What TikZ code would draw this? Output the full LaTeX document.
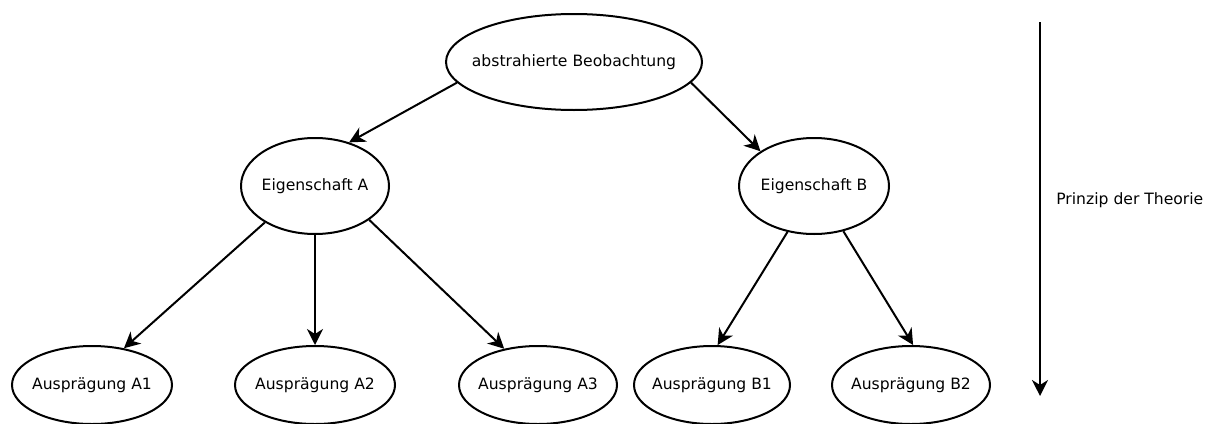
\documentclass[tikz,border=0pt]{standalone}
\usepackage{fontspec}
\setmainfont{DejaVu Sans}
\usetikzlibrary{shapes.geometric, arrows.meta}

\begin{document}
\begin{tikzpicture}[x=1pt, y=-1pt, line width=2pt,
    knoten/.style={draw, ellipse, inner xsep=-30pt, inner ysep=0pt, font=\fontsize{15.6}{18}\selectfont},
    pfeil/.style={-{Stealth[length=16pt, width=16pt, inset=5pt]}}]
    \useasboundingbox (0,0) rectangle (1206,423);

    \node[knoten, minimum width=256pt, minimum height=96pt] (obs) at (574,62) {abstrahierte Beobachtung};
    \node[knoten, minimum width=148pt, minimum height=96pt] (eigA) at (315,186) {Eigenschaft A};
    \node[knoten, minimum width=150pt, minimum height=96pt] (eigB) at (814,186) {Eigenschaft B};

    \node[knoten, minimum width=160pt, minimum height=78pt] (ausA1) at (92,385) {Ausprägung A1};
    \node[knoten, minimum width=160pt, minimum height=78pt] (ausA2) at (315,385) {Ausprägung A2};
    \node[knoten, minimum width=158pt, minimum height=78pt] (ausA3) at (538,385) {Ausprägung A3};
    \node[knoten, minimum width=156pt, minimum height=78pt] (ausB1) at (712,385) {Ausprägung B1};
    \node[knoten, minimum width=158pt, minimum height=78pt] (ausB2) at (911,385) {Ausprägung B2};

    \draw[pfeil] (obs.190) -- (eigA.52);
    \draw[pfeil] (obs.350) -- (eigB.147);
    \draw[pfeil] (eigA.216) -- (ausA1.49);
    \draw[pfeil] (eigA.south) -- (ausA2.north);
    \draw[pfeil] (eigA.328) -- (ausA3.133);
    \draw[pfeil] (eigB.240) -- (ausB1.82);
    \draw[pfeil] (eigB.303) -- (ausB2.87);

    % Richtung
    \coordinate (oben) at (1040,22);
    \coordinate (unten) at (1040,396);
    \draw[pfeil] (oben) -- (unten);
    \node[font=\fontsize{15.6}{18}\selectfont, anchor=west] (prinzip) at (1052,200) {Prinzip der Theorie};
\end{tikzpicture}
\end{document}
